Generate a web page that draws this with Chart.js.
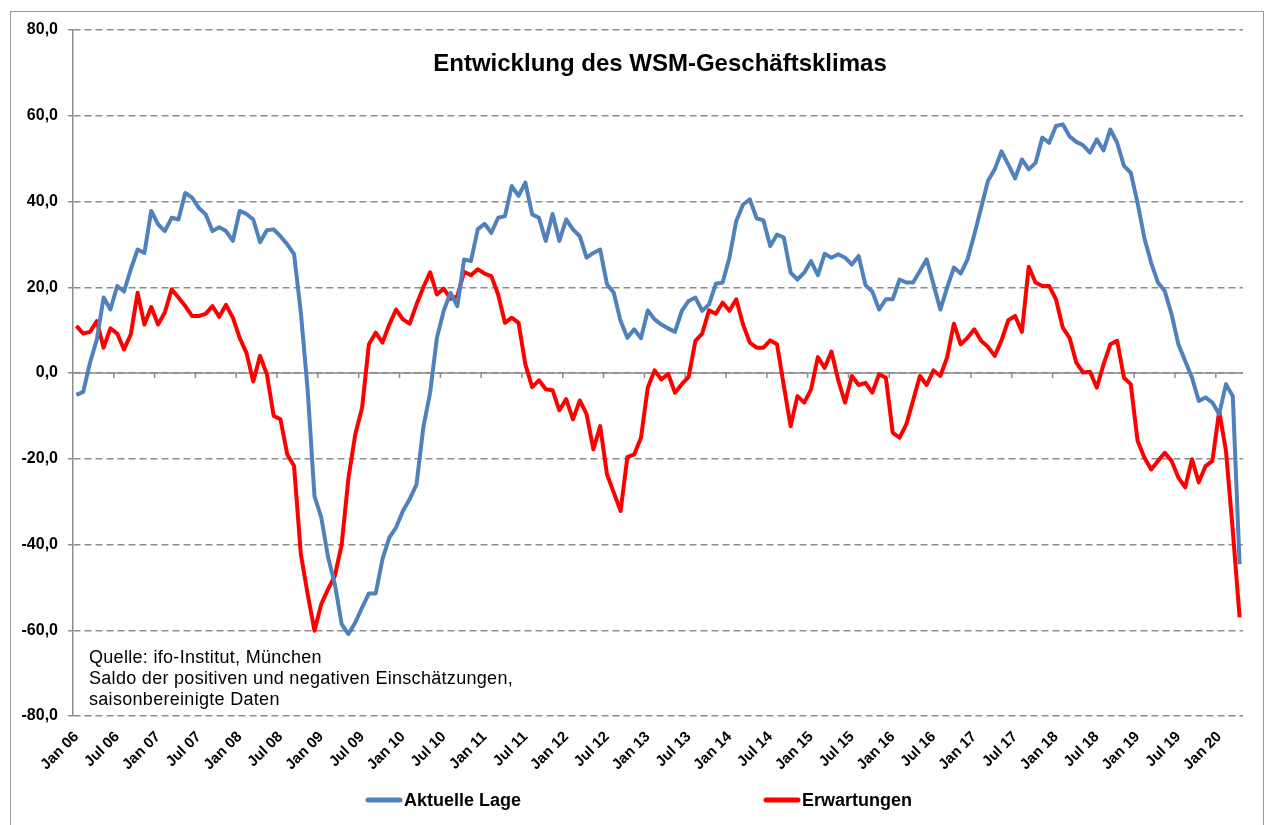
<!DOCTYPE html>
<html lang="de">
<head>
<meta charset="utf-8">
<title>Entwicklung des WSM-Geschäftsklimas</title>
<script src="https://cdn.jsdelivr.net/npm/chart.js@4.4.1/dist/chart.umd.min.js"></script>
<style>
  html, body { margin: 0; padding: 0; background: #fff; }
  #wrap { position: relative; width: 1266px; height: 825px; overflow: hidden; }
  #frame { position: absolute; left: 10px; top: 11px; width: 1252px; height: 830px;
           border: 1px solid #9a9a9a; pointer-events: none; }
</style>
</head>
<body>
<div id="wrap">
  <canvas id="myChart"></canvas>
  <div id="frame"></div>
</div>
<script>
'use strict';

// Daten (Saldo, saisonbereinigt), monatlich ab Jan 06
const startYear = 2006;
const monthNames = ['Jan', 'Feb', 'Mrz', 'Apr', 'Mai', 'Jun', 'Jul', 'Aug', 'Sep', 'Okt', 'Nov', 'Dez'];

const aktuelleLage = [
  -5.1, -4.4, 2.4, 7.8, 17.6, 14.8, 20.3, 19.0, 24.2, 28.8, 28.0, 37.8,
  34.7, 33.1, 36.2, 35.8, 42.0, 40.9, 38.5, 37.0, 33.1, 34.0, 33.1, 30.8,
  37.8, 37.1, 35.8, 30.5, 33.3, 33.5, 31.9, 30.0, 27.7, 14.0, -4.0, -28.7,
  -33.7, -43.0, -49.3, -58.6, -60.9, -58.2, -54.7, -51.4, -51.4, -43.4, -38.4, -36.0,
  -32.2, -29.4, -26.0, -12.7, -4.6, 8.2, 14.5, 18.7, 15.6, 26.5, 26.1, 33.5,
  34.8, 32.7, 36.2, 36.6, 43.6, 41.3, 44.4, 37.0, 36.2, 30.8, 37.1, 30.8,
  35.8, 33.5, 31.9, 26.9, 28.0, 28.8, 20.7, 18.7, 12.1, 8.2, 10.2, 8.1,
  14.6, 12.5, 11.3, 10.4, 9.6, 14.5, 16.8, 17.6, 14.5, 16.0, 20.8, 21.1,
  26.9, 35.4, 39.3, 40.5, 36.1, 35.6, 29.6, 32.3, 31.6, 23.4, 21.8, 23.4,
  26.1, 22.8, 27.8, 26.9, 27.7, 26.9, 25.3, 27.3, 20.5, 19.0, 14.8, 17.2,
  17.2, 21.8, 21.1, 21.1, 23.8, 26.5, 20.7, 14.8, 19.9, 24.6, 23.2, 26.5,
  32.3, 38.5, 44.8, 47.5, 51.7, 48.6, 45.4, 49.8, 47.5, 49.0, 54.9, 53.7,
  57.6, 58.0, 55.2, 53.9, 53.1, 51.4, 54.5, 51.9, 56.8, 53.7, 48.3, 46.7,
  39.7, 31.5, 25.7, 21.1, 19.1, 13.7, 6.7, 2.8, -1.1, -6.5, -5.7, -6.9,
  -9.6, -2.6, -5.4, -44.6
];

const erwartungen = [
  11.0, 9.2, 9.6, 12.1, 5.9, 10.4, 9.2, 5.5, 9.0, 18.7, 11.3, 15.4,
  11.3, 14.1, 19.5, 17.6, 15.6, 13.3, 13.3, 13.8, 15.6, 13.1, 15.9, 12.9,
  8.2, 4.7, -2.0, 4.0, -0.3, -10.0, -10.8, -19.0, -21.7, -42.3, -51.6, -60.1,
  -53.9, -50.4, -47.3, -40.0, -24.4, -14.3, -8.1, 6.7, 9.4, 7.1, 11.3, 14.8,
  12.5, 11.5, 16.0, 20.0, 23.5, 18.3, 19.7, 17.3, 17.9, 23.6, 22.8, 24.2,
  23.2, 22.6, 18.3, 11.7, 12.9, 11.7, 2.0, -3.3, -1.7, -3.8, -4.0, -8.7,
  -6.1, -10.8, -6.4, -9.6, -17.8, -12.4, -23.6, -27.9, -32.2, -19.6, -19.0, -15.1,
  -3.4, 0.6, -1.5, -0.2, -4.6, -2.6, -0.9, 7.5, 9.2, 14.6, 13.8, 16.4,
  14.5, 17.2, 11.3, 7.1, 5.9, 5.9, 7.6, 6.7, -3.0, -12.4, -5.4, -6.9,
  -3.8, 3.7, 1.2, 5.0, -1.7, -6.9, -0.7, -2.8, -2.3, -4.6, -0.3, -1.1,
  -13.9, -15.1, -12.0, -6.4, -0.7, -2.8, 0.6, -0.7, 3.6, 11.5, 6.7, 8.2,
  10.2, 7.5, 6.1, 4.0, 7.6, 12.3, 13.3, 9.6, 24.8, 21.1, 20.3, 20.3,
  17.2, 10.6, 8.2, 2.4, 0.1, 0.3, -3.4, 2.0, 6.7, 7.5, -1.1, -2.6,
  -15.8, -19.7, -22.5, -20.5, -18.6, -20.5, -24.4, -26.7, -20.1, -25.5, -21.7, -20.5,
  -8.9, -18.2, -36.8, -57.0
];

const yTicks = [-80, -60, -40, -20, 0, 20, 40, 60, 80];
const labelMonths = ['Jan', 'Jul'];

const titleText = 'Entwicklung des WSM-Geschäftsklimas';
const noteLines = [
  'Quelle: ifo-Institut, München',
  'Saldo der positiven und negativen Einschätzungen,',
  'saisonbereinigte Daten'
];

// Monatskategorien "Jan 06", "Feb 06", ...
const months = aktuelleLage.map((_, i) => {
  const yy = String((startYear + Math.floor(i / 12)) % 100).padStart(2, '0');
  return monthNames[i % 12] + ' ' + yy;
});

const FONT = '"Liberation Sans", Arial, sans-serif';
const BLUE = '#4F81BD';
const RED = '#FF0000';
const GRID = '#8c8c8c';

// Titel, Nulllinie, Quelle und Legende
const overlay = {
  id: 'overlay',
  beforeDatasetsDraw(chart) {
    const { ctx, chartArea: a, scales: { x, y } } = chart;
    const y0 = y.getPixelForValue(0);
    const step = x.getPixelForValue(1) - x.getPixelForValue(0);
    ctx.save();
    ctx.strokeStyle = GRID;
    ctx.lineWidth = 1.5;
    ctx.beginPath();
    ctx.moveTo(a.left, y0);
    ctx.lineTo(a.right, y0);
    for (let i = 6; i < months.length; i += 6) {
      const px = x.getPixelForValue(i) - step / 2;
      ctx.moveTo(px, y0);
      ctx.lineTo(px, y0 + 5);
    }
    ctx.stroke();
    ctx.restore();
  },
  afterDraw(chart) {
    const { ctx } = chart;
    ctx.save();
    ctx.fillStyle = '#000';

    ctx.font = 'bold 24px ' + FONT;
    ctx.textAlign = 'center';
    ctx.textBaseline = 'alphabetic';
    ctx.fillText(titleText, 660, 71);

    ctx.font = '18px ' + FONT;
    ctx.letterSpacing = '0.3px';
    ctx.textAlign = 'left';
    noteLines.forEach((t, i) => ctx.fillText(t, 89, 663 + i * 21));
    ctx.letterSpacing = '0px';

    // Legende
    const items = [
      { text: 'Aktuelle Lage', color: BLUE, x: 368 },
      { text: 'Erwartungen', color: RED, x: 766 }
    ];
    ctx.font = 'bold 18px ' + FONT;
    ctx.textBaseline = 'middle';
    items.forEach(it => {
      ctx.strokeStyle = it.color;
      ctx.lineWidth = 5;
      ctx.lineCap = 'round';
      ctx.beginPath();
      ctx.moveTo(it.x, 800);
      ctx.lineTo(it.x + 32, 800);
      ctx.stroke();
      ctx.fillText(it.text, it.x + 36, 801);
    });
    ctx.restore();
  }
};

const ctx = document.getElementById('myChart').getContext('2d');
const myChart = new Chart(ctx, {
  type: 'line',
  data: {
    labels: months,
    datasets: [{
      label: 'Aktuelle Lage',
      data: aktuelleLage,
      borderColor: BLUE,
      backgroundColor: BLUE,
      borderWidth: 4,
      pointRadius: 0,
      tension: 0,
      borderJoinStyle: 'round'
    }, {
      label: 'Erwartungen',
      data: erwartungen,
      borderColor: RED,
      backgroundColor: RED,
      borderWidth: 4,
      pointRadius: 0,
      tension: 0,
      borderJoinStyle: 'round'
    }]
  },
  options: {
    responsive: true,
    maintainAspectRatio: false,
    animation: false,
    layout: { padding: { left: 0, top: 30, right: 23, bottom: 0 } },
    plugins: {
      legend: { display: false },
      tooltip: { enabled: false },
      title: { display: false }
    },
    scales: {
      x: {
        type: 'category',
        offset: true,
        grid: { display: false },
        border: { display: false },
        ticks: {
          autoSkip: false,
          maxRotation: 45,
          minRotation: 45,
          padding: 4,
          color: '#000',
          font: { family: FONT, size: 15, weight: 'bold' },
          callback: (v, i) => labelMonths.includes(months[i].slice(0, 3)) && (i % 6 === 0) ? months[i] : ''
        },
        afterFit: scale => { scale.height = 109; }
      },
      y: {
        min: yTicks[0],
        max: yTicks[yTicks.length - 1],
        afterBuildTicks: scale => { scale.ticks = yTicks.map(v => ({ value: v })); },
        grid: {
          color: GRID,
          lineWidth: 1.5,
          tickLength: 5,
          tickBorderDash: []
        },
        border: { display: true, color: GRID, width: 1.5, dash: [7, 4] },
        ticks: {
          padding: 10,
          color: '#000',
          font: { family: FONT, size: 16, weight: 'bold' },
          callback: v => v.toFixed(1).replace('.', ',')
        },
        afterFit: scale => { scale.width = 73; }
      }
    }
  },
  plugins: [overlay]
});
</script>
</body>
</html>
